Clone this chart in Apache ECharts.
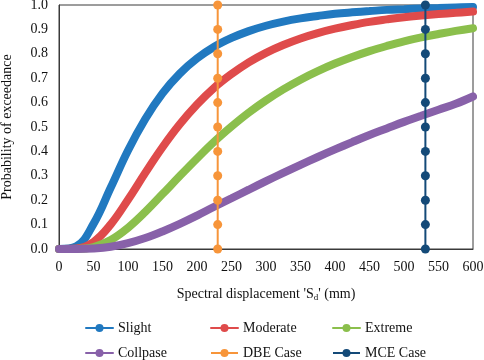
<!DOCTYPE html>
<html>
<head>
<meta charset="utf-8">
<script src="https://cdn.jsdelivr.net/npm/echarts@6/dist/echarts.min.js"></script>
<style>
  html, body { margin: 0; padding: 0; background: #fff; }
  #chart { width: 484px; height: 360px; }
</style>
</head>
<body>
<div id="chart"></div>
<script>
// spectral displacement sample points (mm)
const sd = [0, 25, 50, 75, 100, 125, 150, 175, 200, 225, 250, 275, 300,
  325, 350, 375, 400, 425, 450, 475, 500, 525, 550, 575, 600];

// probability of exceedance
const slight = [0, 0.011, 0.103, 0.252, 0.404, 0.533, 0.638, 0.719, 0.781, 0.829, 0.865, 0.893, 0.915,
  0.932, 0.945, 0.955, 0.964, 0.970, 0.975, 0.980, 0.983, 0.986, 0.988, 0.990, 0.992];
const moderate = [0, 0.002, 0.029, 0.101, 0.202, 0.312, 0.417, 0.511, 0.592, 0.661, 0.717, 0.765, 0.804,
  0.836, 0.863, 0.885, 0.903, 0.918, 0.931, 0.941, 0.950, 0.957, 0.963, 0.968, 0.973];
const extreme = [0, 0.0003, 0.008, 0.037, 0.087, 0.152, 0.225, 0.299, 0.371, 0.440, 0.502, 0.559, 0.609,
  0.654, 0.694, 0.729, 0.760, 0.787, 0.811, 0.832, 0.851, 0.867, 0.881, 0.894, 0.905];
const collapse = [0, 0.0001, 0.002, 0.009, 0.024, 0.045, 0.072, 0.103, 0.137, 0.173, 0.208, 0.243, 0.278,
  0.312, 0.345, 0.377, 0.408, 0.438, 0.467, 0.494, 0.521, 0.546, 0.571, 0.595, 0.625];

// demand cases (vertical markers)
const dbeX = 230;
const mceX = 531;
const probLevels = [0, 0.1, 0.2, 0.3, 0.4, 0.5, 0.6, 0.7, 0.8, 0.9, 1.0];

const xTicks = { min: 0, max: 600, interval: 50 };
const yTicks = { min: 0, max: 1, interval: 0.1 };

const font = '"Liberation Serif", "Times New Roman", serif';

const chart = echarts.init(document.getElementById('chart'));

function curve(name, color, values) {
  return {
    name: name,
    type: 'line',
    smooth: 0.4,
    symbol: 'circle',
    symbolSize: 8,
    showSymbol: false,
    lineStyle: { width: 8, color: color, cap: 'round' },
    itemStyle: { color: color },
    data: sd.map((x, i) => [x, values[i]]),
    z: 2
  };
}

function caseLine(name, color, x) {
  return {
    name: name,
    type: 'line',
    symbol: 'circle',
    symbolSize: 9,
    clip: false,
    lineStyle: { width: 2, color: color },
    itemStyle: { color: color },
    data: probLevels.map(p => [x, p]),
    z: 3
  };
}

// one legend per item so the 3x2 layout lines up like the original
function legendAt(name, left, top) {
  return {
    data: [name],
    left: left,
    top: top,
    padding: 0,
    itemWidth: 27,
    itemHeight: 10,
    textStyle: { fontFamily: font, fontSize: 14, color: '#111' }
  };
}

const option = {
  backgroundColor: '#fff',
  animation: false,
  grid: {
    left: 59,
    right: 11,
    top: 5,
    height: 244,
    outerBoundsMode: 'none',
    show: true,
    borderColor: '#3a3a3a',
    borderWidth: 1
  },
  legend: [
    legendAt('Slight', 85, 321),
    legendAt('Moderate', 210, 321),
    legendAt('Extreme', 332, 321),
    legendAt('Collpase', 85, 346),
    legendAt('DBE Case', 210, 346),
    legendAt('MCE Case', 332, 346)
  ],
  xAxis: {
    type: 'value',
    min: xTicks.min,
    max: xTicks.max,
    interval: xTicks.interval,
    name: "Spectral displacement 'S{sub|d}' (mm)",
    nameLocation: 'middle',
    nameGap: 38,
    nameTextStyle: {
      fontFamily: font, fontSize: 14, color: '#111',
      rich: { sub: { fontFamily: font, fontSize: 9, color: '#111', verticalAlign: 'bottom', padding: [6, 0, 0, 0] } }
    },
    axisLine: { lineStyle: { color: '#3a3a3a' } },
    axisTick: { show: false },
    splitLine: { show: false },
    axisLabel: { fontFamily: font, fontSize: 14, color: '#111', margin: 11 }
  },
  yAxis: {
    type: 'value',
    min: yTicks.min,
    max: yTicks.max,
    interval: yTicks.interval,
    name: 'Probability of exceedance',
    nameLocation: 'middle',
    nameGap: 45,
    nameTextStyle: { fontFamily: font, fontSize: 14, color: '#111' },
    axisLine: { show: true, lineStyle: { color: '#3a3a3a' } },
    axisTick: { show: false },
    splitLine: { show: false },
    axisLabel: { fontFamily: font, fontSize: 14, color: '#111', margin: 11, formatter: v => v.toFixed(1) }
  },
  series: [
    curve('Slight', '#2179c0', slight),
    curve('Moderate', '#df4b4b', moderate),
    curve('Extreme', '#8bbf4c', extreme),
    curve('Collpase', '#8861a9', collapse),
    caseLine('DBE Case', '#f7953a', dbeX),
    caseLine('MCE Case', '#144a78', mceX)
  ]
};

chart.setOption(option);
</script>
</body>
</html>
